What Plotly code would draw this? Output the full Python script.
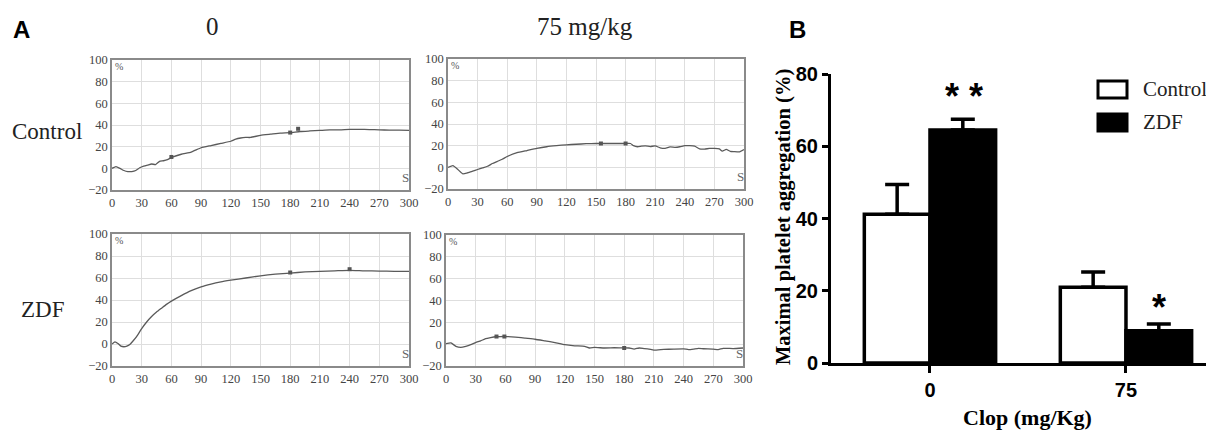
import plotly.graph_objects as go

W, H = 1214, 430
OFF = 8  # page body margin of the browser
FW, FH = W - OFF, H - OFF

# ---------------- Panel A: aggregation traces ----------------
t_ctrl0 = [0, 4, 8, 12, 16, 20, 24, 28, 32, 36, 40, 44, 48, 52, 56, 60, 70, 80, 90, 100, 110, 120, 125, 130,
           135, 140, 150, 160, 170, 180, 190, 200, 210, 220, 230, 240, 250, 260, 270, 280, 290, 300]
v_ctrl0 = [0, 1.5, 0, -2, -3, -3, -2, 0.5, 2, 3, 4, 3.5, 6.5, 7, 8, 10, 13, 15, 19, 21, 23, 25, 27, 28,
           28.5, 28.5, 30.5, 31.5, 32.5, 33, 34, 34.5, 35, 35.5, 35.5, 36, 36, 35.8, 35.5, 35.3, 35.2, 35]
mt_ctrl0 = [60, 180, 188]
mv_ctrl0 = [10.5, 33, 36.5]

t_ctrl75 = [0, 5, 10, 15, 20, 25, 30, 35, 40, 45, 50, 55, 60, 70, 80, 90, 100, 110, 120, 130, 140, 150, 160,
            170, 180, 185, 188, 192, 196, 200, 205, 210, 215, 220, 225, 230, 235, 240, 245, 250, 255, 260,
            265, 270, 275, 278, 282, 286, 290, 295, 300]
v_ctrl75 = [0, 1.5, -2, -6, -5, -3.5, -2, -0.5, 1, 3.5, 5.5, 7.5, 10, 13.5, 15.5, 17.5, 19, 20, 20.8, 21.3,
            21.8, 22, 22, 22, 22, 22, 20, 19, 19.5, 19.8, 19.2, 19.8, 18, 17.5, 18.8, 18.5, 19, 20, 20, 19.5,
            17, 16.8, 17.5, 17.5, 17, 15, 16.5, 14.8, 14.5, 14.2, 16.5]
mt_ctrl75 = [155, 180]
mv_ctrl75 = [22, 22]

t_zdf0 = [0, 3, 6, 9, 12, 15, 18, 21, 25, 30, 35, 40, 45, 50, 55, 60, 70, 80, 90, 100, 110, 120, 135, 150,
          165, 180, 195, 210, 225, 240, 255, 270, 285, 300]
v_zdf0 = [0, 2, 0.5, -2, -2.5, -2, -0.5, 2.5, 7, 14, 20, 25, 29, 32.5, 36, 39, 44, 48.5, 52, 54.5, 56.5, 58,
          60, 62, 63.5, 64.5, 65.5, 66, 66.5, 67, 66.5, 66.3, 66.1, 66]
mt_zdf0 = [180, 240]
mv_zdf0 = [65, 68]

t_zdf75 = [0, 5, 10, 15, 20, 25, 30, 35, 40, 45, 50, 55, 60, 70, 80, 90, 100, 110, 120, 130, 140, 145, 150,
           160, 170, 180, 185, 190, 195, 200, 205, 210, 220, 230, 240, 245, 250, 255, 260, 270, 275, 280,
           290, 300]
v_zdf75 = [0.5, 1.2, -2, -3, -2, -0.5, 1.5, 3, 5, 6, 6.8, 7, 7, 6.5, 5.5, 4.5, 3, 1.5, -0.5, -1.5, -2, -3.5,
           -3, -3.5, -3.3, -3.4, -3.5, -4.5, -3.5, -4, -4.5, -5.5, -4.8, -4.5, -4.3, -5, -4.5, -3.8, -4.2,
           -4.5, -5, -3.8, -4, -3.5]
mt_zdf75 = [51, 59, 180]
mv_zdf75 = [7, 7, -3.5]

time_ticks = [0, 30, 60, 90, 120, 150, 180, 210, 240, 270, 300]
pct_ticks = [-20, 0, 20, 40, 60, 80, 100]

# ---------------- Panel B: bar chart ----------------
doses = ["0", "75"]
control_mean = [41.2, 21.0]
control_sem = [8.2, 4.2]
zdf_mean = [64.5, 8.9]
zdf_sem = [3.0, 1.9]
b_ticks = [0, 20, 40, 60, 80]
stars = ["* *", "*"]


def px_x(p):
    return (p - OFF) / FW


def px_y(p):
    return 1 - (p - OFF) / FH


fig = go.Figure()

# small panel pixel boxes: (left, right, top, bottom)
boxes = [(112, 409, 60, 190), (448, 744, 59, 189), (112, 409, 234, 366), (446, 743, 235, 366)]
curves = [(t_ctrl0, v_ctrl0, mt_ctrl0, mv_ctrl0),
          (t_ctrl75, v_ctrl75, mt_ctrl75, mv_ctrl75),
          (t_zdf0, v_zdf0, mt_zdf0, mv_zdf0),
          (t_zdf75, v_zdf75, mt_zdf75, mv_zdf75)]

tick_font = dict(family="Liberation Serif", size=12.5, color="#444")
annotations = []
for i, ((l, r, t, b), (tt, vv, mt, mv)) in enumerate(zip(boxes, curves), start=1):
    xa = "x" if i == 1 else f"x{i}"
    ya = "y" if i == 1 else f"y{i}"
    fig.add_trace(go.Scatter(x=tt, y=vv, mode="lines", line=dict(color="#5a5a5a", width=1.3, shape="spline", smoothing=0.4),
                             xaxis=xa, yaxis=ya, showlegend=False, hoverinfo="skip"))
    fig.add_trace(go.Scatter(x=mt, y=mv, mode="markers", marker=dict(symbol="square", size=4, color="#555"),
                             xaxis=xa, yaxis=ya, showlegend=False, hoverinfo="skip"))
    axkey = "xaxis" if i == 1 else f"xaxis{i}"
    aykey = "yaxis" if i == 1 else f"yaxis{i}"
    fig.layout[axkey] = dict(domain=[px_x(l), px_x(r)], range=[0, 300], tickvals=time_ticks,
                             showgrid=True, gridcolor="#dedede", gridwidth=1, zeroline=False,
                             showline=True, mirror=True, linecolor="#8a8a8a", linewidth=1.5,
                             ticks="", tickfont=tick_font, anchor=ya, fixedrange=True, automargin=False)
    fig.layout[aykey] = dict(domain=[px_y(b), px_y(t)], range=[-20, 100], tickvals=pct_ticks,
                             showgrid=True, gridcolor="#dedede", gridwidth=1, zeroline=False,
                             showline=True, mirror=True, linecolor="#8a8a8a", linewidth=1.5,
                             ticks="", tickfont=tick_font, anchor=xa, fixedrange=True, automargin=False)
    annotations.append(dict(text="%", xref="paper", yref="paper", x=px_x(l + 1), y=px_y(t - 1),
                            xanchor="left", yanchor="top", showarrow=False,
                            font=dict(family="Liberation Serif", size=10, color="#555")))
    annotations.append(dict(text="S", xref="paper", yref="paper", x=px_x(r + 2), y=px_y(b - 3),
                            xanchor="right", yanchor="bottom", showarrow=False,
                            font=dict(family="Liberation Serif", size=13, color="#666")))

# Panel B bars
fig.add_trace(go.Bar(x=doses, y=control_mean, name="Control", xaxis="x5", yaxis="y5",
                     marker=dict(color="white", line=dict(color="black", width=3.5)),
                     error_y=dict(type="data", array=control_sem, arrayminus=[0, 0], symmetric=False,
                                  color="black", thickness=3.5, width=12),
                     showlegend=False, hoverinfo="skip"))
fig.add_trace(go.Bar(x=doses, y=zdf_mean, name="ZDF", xaxis="x5", yaxis="y5",
                     marker=dict(color="black", line=dict(color="black", width=3.5)),
                     error_y=dict(type="data", array=zdf_sem, arrayminus=[0, 0], symmetric=False,
                                  color="black", thickness=3.5, width=12),
                     showlegend=False, hoverinfo="skip"))

bfont = dict(family="Liberation Sans", size=20, color="black", weight="bold")
fig.layout["xaxis5"] = dict(domain=[px_x(831), px_x(1213)], range=[-0.505, 1.444], type="category",
                            showline=True, linecolor="black", linewidth=3, ticks="outside", ticklen=7,
                            tickwidth=3, tickcolor="black", tickfont=bfont, showgrid=False, zeroline=False,
                            anchor="y5", fixedrange=True, automargin=False)
fig.layout["yaxis5"] = dict(domain=[px_y(363), px_y(74)], range=[0, 80], tickvals=b_ticks,
                            showline=True, linecolor="black", linewidth=3, ticks="outside", ticklen=6,
                            tickwidth=3, tickcolor="black", tickfont=bfont, showgrid=False, zeroline=False,
                            anchor="x5", fixedrange=True, automargin=False)
fig.update_layout(barmode="group", bargap=0.33, bargroupgap=0)

# significance stars
star_off = [0.175, 0.17]
star_shift = [0, -6]
for k in range(2):
    annotations.append(dict(text=stars[k], xref="x5", yref="y5", x=k + star_off[k],
                            y=zdf_mean[k] + zdf_sem[k], yanchor="bottom", yshift=star_shift[k],
                            showarrow=False,
                            font=dict(family="Liberation Sans", size=36, color="black", weight="bold")))

# legend for panel B
shapes = [
    dict(type="rect", xref="paper", yref="paper", x0=px_x(1098), x1=px_x(1127), y0=px_y(98), y1=px_y(81),
         line=dict(color="black", width=3), fillcolor="white"),
    dict(type="rect", xref="paper", yref="paper", x0=px_x(1098), x1=px_x(1127), y0=px_y(131), y1=px_y(114),
         line=dict(color="black", width=3), fillcolor="black"),
]
serif = "Liberation Serif"
annotations += [
    dict(text="Control", xref="paper", yref="paper", x=px_x(1141), y=px_y(89), xanchor="left",
         yanchor="middle", showarrow=False, font=dict(family=serif, size=21, color="#222")),
    dict(text="ZDF", xref="paper", yref="paper", x=px_x(1141), y=px_y(122), xanchor="left",
         yanchor="middle", showarrow=False, font=dict(family=serif, size=21, color="#222")),
    dict(text="Maximal platelet aggregation (%)", xref="paper", yref="paper", x=px_x(783), y=px_y(217),
         textangle=-90, xanchor="center", yanchor="middle", showarrow=False,
         font=dict(family=serif, size=20.5, color="black", weight="bold")),
    dict(text="Clop (mg/Kg)", xref="paper", yref="paper", x=px_x(1027), y=px_y(417), xanchor="center",
         yanchor="middle", showarrow=False, font=dict(family=serif, size=22, color="black", weight="bold")),
    # panel letters
    dict(text="A", xref="paper", yref="paper", x=px_x(22), y=px_y(30), xanchor="center", yanchor="middle",
         showarrow=False, font=dict(family="Liberation Sans", size=24, color="black", weight="bold")),
    dict(text="B", xref="paper", yref="paper", x=px_x(797), y=px_y(29), xanchor="center", yanchor="middle",
         showarrow=False, font=dict(family="Liberation Sans", size=24, color="black", weight="bold")),
    # panel A headers
    dict(text="0", xref="paper", yref="paper", x=px_x(212), y=px_y(27), xanchor="center", yanchor="middle",
         showarrow=False, font=dict(family=serif, size=25, color="#222")),
    dict(text="75 mg/kg", xref="paper", yref="paper", x=px_x(585), y=px_y(27), xanchor="center",
         yanchor="middle", showarrow=False, font=dict(family=serif, size=25, color="#222")),
    dict(text="Control", xref="paper", yref="paper", x=px_x(47), y=px_y(131), xanchor="center",
         yanchor="middle", showarrow=False, font=dict(family=serif, size=23, color="#222")),
    dict(text="ZDF", xref="paper", yref="paper", x=px_x(42), y=px_y(309), xanchor="center",
         yanchor="middle", showarrow=False, font=dict(family=serif, size=23, color="#222")),
]

fig.update_layout(width=FW, height=FH, margin=dict(l=0, r=0, t=0, b=0, autoexpand=False), plot_bgcolor="white",
                  paper_bgcolor="white", annotations=annotations, shapes=shapes, showlegend=False,
                  template="none")

fig.write_html("out.html", config={"displayModeBar": False})
